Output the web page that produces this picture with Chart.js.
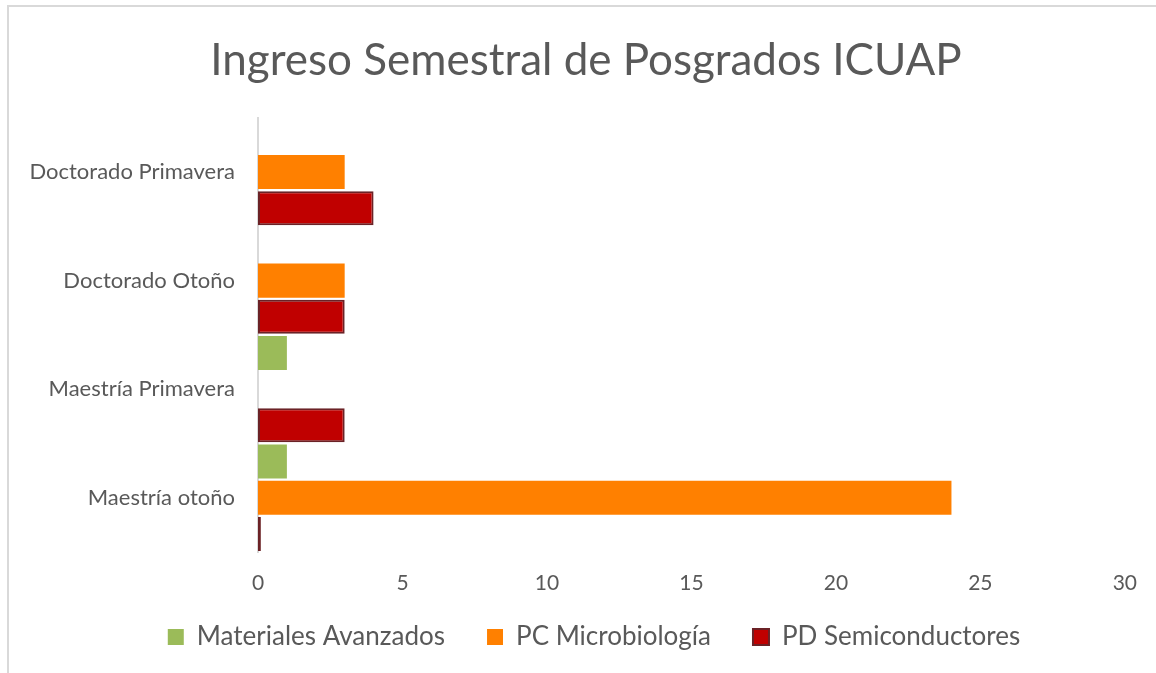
<!DOCTYPE html>
<html>
<head>
<meta charset="utf-8">
<script src="https://cdn.jsdelivr.net/npm/chart.js@4/dist/chart.umd.min.js"></script>
<style>
  html, body { margin: 0; padding: 0; background: #fff; }
  #wrap { position: relative; width: 1156px; height: 673px; overflow: hidden; }
  #frame { position: absolute; left: 7px; top: 5px; width: 1160px; height: 680px;
           border-top: 2px solid #d9d9d9; border-left: 2px solid #d9d9d9; }
  canvas { position: absolute; left: 0; top: 0; }
</style>
</head>
<body>
<div id="wrap">
  <div id="frame"></div>
  <canvas id="c" width="1156" height="673"></canvas>
</div>
<script>
const categories = ['Doctorado Primavera', 'Doctorado Otoño', 'Maestría Primavera', 'Maestría otoño'];
const seriesNames = ['Materiales Avanzados', 'PC Microbiología', 'PD Semiconductores'];
const materialesAvanzados = [0, 0, 1, 1];
const pcMicrobiologia = [3, 3, 0, 24];
const pdSemiconductores = [4, 3, 3, 0.1];
const xTicks = [0, 5, 10, 15, 20, 25, 30];

const FONT = 'Lato, Carlito, Calibri, "Open Sans", sans-serif';
const TXT = '#595959';

// shift title / legend boxes after layout so they centre like the original
const shiftBoxes = {
  id: 'shiftBoxes',
  afterLayout(chart) {
    const t = chart.titleBlock;
    if (t) { t.left += 23; t.right += 23; }
    const l = chart.legend;
    if (l) { l.left += 31; l.right += 31; l.top -= 13; l.bottom -= 13; }
  }
};

new Chart(document.getElementById('c'), {
  type: 'bar',
  data: {
    labels: categories,
    datasets: [
      { label: seriesNames[0], data: materialesAvanzados, backgroundColor: '#9BBB59', borderWidth: 0 },
      { label: seriesNames[1], data: pcMicrobiologia, backgroundColor: '#FF8000', borderWidth: 0 },
      { label: seriesNames[2], data: pdSemiconductores, backgroundColor: '#C00000', borderColor: '#6B2226', borderWidth: 2 }
    ]
  },
  options: {
    indexAxis: 'y',
    responsive: false,
    animation: false,
    layout: { padding: { left: 0, right: 30, top: 0, bottom: 0 } },
    datasets: { bar: { categoryPercentage: 1.0, barPercentage: 0.94, borderSkipped: false } },
    scales: {
      x: {
        min: 0, max: 30,
        afterBuildTicks: (s) => { s.ticks = xTicks.map(v => ({ value: v })); },
        grid: { display: false, drawTicks: false },
        border: { display: false },
        ticks: { color: TXT, font: { family: FONT, size: 21 }, padding: 19 },
        afterFit: (s) => { s.height = 43; }
      },
      y: {
        grid: { display: false, drawTicks: false },
        border: { display: true, color: '#d9d9d9', width: 2 },
        ticks: { color: TXT, font: { family: FONT, size: 22 }, padding: 23 },
        afterFit: (s) => { s.width = 258; }
      }
    },
    plugins: {
      title: {
        display: true,
        text: 'Ingreso Semestral de Posgrados ICUAP',
        color: TXT,
        font: { family: FONT, size: 44, weight: 'normal' },
        padding: { top: 34, bottom: 31 }
      },
      legend: {
        position: 'bottom',
        labels: {
          color: TXT,
          font: { family: FONT, size: 26 },
          boxWidth: 16, boxHeight: 16,
          padding: 42
        }
      },
      tooltip: { enabled: false }
    }
  },
  plugins: [shiftBoxes]
});
</script>
</body>
</html>
